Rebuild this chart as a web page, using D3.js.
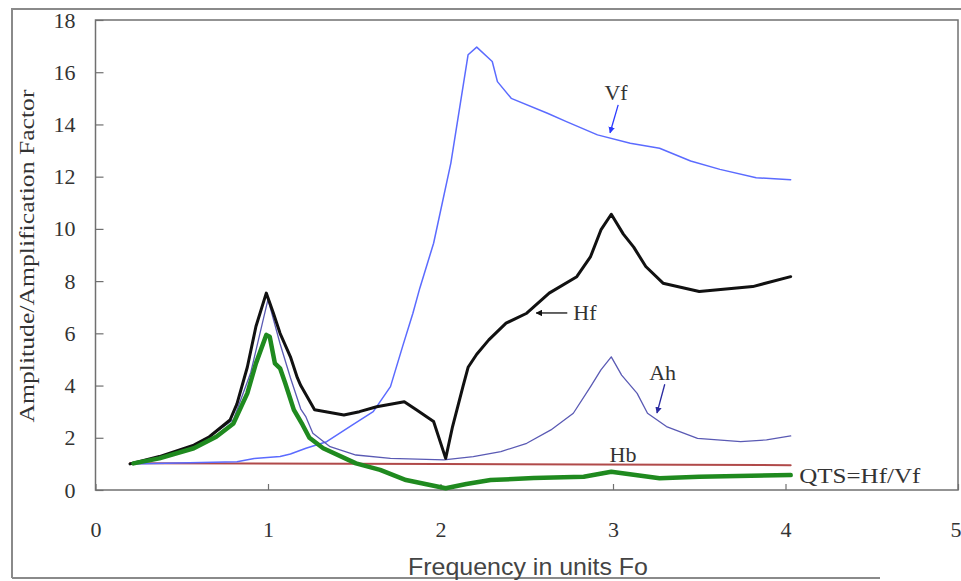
<!DOCTYPE html>
<html><head><meta charset="utf-8">
<script src="https://cdn.jsdelivr.net/npm/d3@7"></script>
<style>html,body{margin:0;padding:0;background:#fff;}svg{display:block;}</style>
</head><body>
<svg id="chart" width="961" height="581"></svg>
<script>
// ---- data ----
const yTicks = [0, 2, 4, 6, 8, 10, 12, 14, 16, 18];
const xTicks = [0, 1, 2, 3, 4, 5];

const vfFreq = [0.2,0.82,0.92,1.07,1.13,1.22,1.34,1.49,1.61,1.71,1.78,1.84,1.88,1.96,2.06,2.16,2.21,2.3,2.33,2.41,2.62,2.73,2.91,3.1,3.27,3.45,3.62,3.83,4.03];
const vfVal  = [1.0,1.08,1.21,1.28,1.38,1.6,1.85,2.49,3.0,3.96,5.49,6.77,7.73,9.45,12.52,16.67,16.96,16.41,15.64,15.0,14.43,14.11,13.6,13.28,13.09,12.6,12.28,11.96,11.88];

const hfFreq = [0.2,0.37,0.57,0.66,0.78,0.82,0.88,0.93,0.99,1.03,1.07,1.13,1.17,1.19,1.27,1.44,1.53,1.63,1.79,1.86,1.96,2.03,2.07,2.13,2.16,2.21,2.28,2.38,2.5,2.63,2.79,2.87,2.93,2.99,3.06,3.12,3.19,3.29,3.5,3.81,4.03];
const hfVal  = [1.0,1.28,1.72,2.04,2.68,3.3,4.7,6.26,7.54,6.8,6.0,5.1,4.3,4.0,3.07,2.87,3.0,3.19,3.38,3.07,2.62,1.21,2.43,3.96,4.7,5.2,5.75,6.39,6.77,7.54,8.17,8.94,9.96,10.56,9.8,9.3,8.56,7.92,7.6,7.79,8.17];

const ahFreq = [0.2,0.4,0.6,0.8,0.9,0.95,1.0,1.07,1.13,1.19,1.22,1.26,1.36,1.51,1.71,2.02,2.19,2.35,2.5,2.64,2.77,2.87,2.93,2.99,3.05,3.14,3.2,3.31,3.49,3.74,3.89,4.03];
const ahVal  = [1.0,1.25,1.75,2.7,4.5,5.9,7.3,5.6,4.3,3.1,2.8,2.17,1.66,1.34,1.21,1.15,1.28,1.47,1.79,2.3,2.94,3.96,4.6,5.1,4.4,3.7,2.94,2.43,1.98,1.85,1.92,2.07];

const hbFreq = [0.2, 2.0, 4.03];
const hbVal  = [1.02, 1.0, 0.95];

const qtsFreq = [0.22,0.37,0.57,0.7,0.8,0.88,0.93,0.99,1.01,1.04,1.07,1.1,1.15,1.2,1.24,1.32,1.51,1.65,1.8,2.03,2.15,2.29,2.54,2.83,2.99,3.27,3.5,4.03];
const qtsVal  = [1.02,1.21,1.6,2.04,2.55,3.7,4.85,5.94,5.87,4.85,4.66,4.09,3.07,2.5,2.0,1.6,1.02,0.77,0.38,0.07,0.23,0.38,0.46,0.51,0.7,0.45,0.51,0.57];

// annotation labels (text, data position) and arrows (data from -> to)
const labelTexts = ["Vf", "Hf", "Ah", "Hb", "QTS=Hf/Vf"];
const labelFreq  = [2.95, 2.77, 3.21, 2.98, 4.08];
const labelVal   = [14.94, 6.51, 4.21, 1.07, 0.27];
const arrowFrom  = [[3.03, 14.75], [2.735, 6.78], [3.30, 4.05]];
const arrowTo    = [[2.983, 13.68], [2.555, 6.78], [3.255, 2.95]];

// ---- drawing ----
const svg = d3.select("#chart");
svg.append("rect").attr("width", 961).attr("height", 581).attr("fill", "#fff");

const x = d3.scaleLinear().domain([0, 5]).range([95.5, 958]);
const y = d3.scaleLinear().domain([0, 18]).range([490, 20]);

// outer frame
const frame = svg.append("g").attr("stroke", "#8a8a8a").attr("stroke-width", 2).attr("fill", "none");
frame.append("path").attr("d", "M12,578 L12,9 L961,9");
frame.append("path").attr("d", "M12,578 L880,578");

// plot frame
svg.append("rect")
  .attr("x", x(0)).attr("y", y(18))
  .attr("width", x(5) - x(0)).attr("height", y(0) - y(18))
  .attr("fill", "none").attr("stroke", "#707070").attr("stroke-width", 1.5);

// axes
const yAxis = d3.axisLeft(y).tickValues(yTicks).tickFormat(d3.format("d"))
  .tickSizeInner(-8).tickSizeOuter(0).tickPadding(20);
const gy = svg.append("g").attr("transform", `translate(${x(0)},0)`).call(yAxis);
gy.select(".domain").remove();
gy.selectAll("line").attr("stroke", "#707070").attr("stroke-width", 1.2);
gy.selectAll("text").attr("font-family", "'Liberation Serif', 'Times New Roman', serif")
  .attr("font-size", 22).attr("fill", "#333");

const xAxis = d3.axisBottom(x).tickValues(xTicks).tickFormat(d3.format("d"))
  .tickSizeInner(-6).tickSizeOuter(0).tickPadding(31);
const gx = svg.append("g").attr("transform", `translate(0,${y(0)})`).call(xAxis);
gx.select(".domain").remove();
gx.selectAll("line").attr("stroke", "#707070").attr("stroke-width", 1.2);
gx.selectAll("text").attr("font-family", "'Liberation Serif', 'Times New Roman', serif")
  .attr("font-size", 22).attr("fill", "#333")
  .attr("text-anchor", d => d === 5 ? "end" : "middle")
  .attr("dx", d => d === 5 ? 3 : 0);

// axis titles
svg.append("text")
  .attr("transform", `translate(34,${256}) rotate(-90)`)
  .attr("text-anchor", "middle")
  .attr("font-family", "'Liberation Serif', 'Times New Roman', serif")
  .attr("font-size", 22).attr("fill", "#333")
  .attr("textLength", 333).attr("lengthAdjust", "spacingAndGlyphs")
  .text("Amplitude/Amplification Factor");

svg.append("text")
  .attr("x", 528).attr("y", 575)
  .attr("text-anchor", "middle")
  .attr("font-family", "'Liberation Sans', Arial, sans-serif")
  .attr("font-size", 24).attr("fill", "#444")
  .attr("textLength", 240).attr("lengthAdjust", "spacingAndGlyphs")
  .text("Frequency in units Fo");

// lines
const line = d3.line().x(d => x(d[0])).y(d => y(d[1])).curve(d3.curveLinear);
const zip = (a, b) => a.map((v, i) => [v, b[i]]);

const series = [
  { xs: hbFreq,  ys: hbVal,  color: "#b04a4a", width: 2 },
  { xs: vfFreq,  ys: vfVal,  color: "#5b6bff", width: 1.5 },
  { xs: ahFreq,  ys: ahVal,  color: "#5a5ab4", width: 1.3 },
  { xs: hfFreq,  ys: hfVal,  color: "#111111", width: 3 },
  { xs: qtsFreq, ys: qtsVal, color: "#1f8a1f", width: 4.5 }
];
svg.append("g").selectAll("path").data(series).join("path")
  .attr("d", s => line(zip(s.xs, s.ys)))
  .attr("fill", "none")
  .attr("stroke", s => s.color)
  .attr("stroke-width", s => s.width)
  .attr("stroke-linejoin", "round")
  .attr("stroke-linecap", "round");

// arrow markers
const arrowColors = ["#2b3bff", "#111111", "#2a2aa0"];
const defs = svg.append("defs");
arrowColors.forEach((c, i) => {
  defs.append("marker").attr("id", "ah" + i)
    .attr("viewBox", "0 0 10 10").attr("refX", 9).attr("refY", 5)
    .attr("markerWidth", 5).attr("markerHeight", 5).attr("orient", "auto")
    .append("path").attr("d", "M0,0 L10,5 L0,10 Z").attr("fill", c);
});
svg.append("g").selectAll("line").data(arrowFrom).join("line")
  .attr("x1", d => x(d[0])).attr("y1", d => y(d[1]))
  .attr("x2", (d, i) => x(arrowTo[i][0])).attr("y2", (d, i) => y(arrowTo[i][1]))
  .attr("stroke", (d, i) => arrowColors[i]).attr("stroke-width", 1.3)
  .attr("marker-end", (d, i) => `url(#ah${i})`);

// labels
svg.append("g").selectAll("text").data(labelTexts).join("text")
  .attr("x", (d, i) => x(labelFreq[i])).attr("y", (d, i) => y(labelVal[i]))
  .attr("font-family", "'Liberation Serif', 'Times New Roman', serif")
  .attr("font-size", 22).attr("fill", "#333")
  .each(function(d) { if (d.length > 4) d3.select(this).attr("textLength", 121).attr("lengthAdjust", "spacingAndGlyphs"); })
  .text(d => d);
</script>
</body></html>
